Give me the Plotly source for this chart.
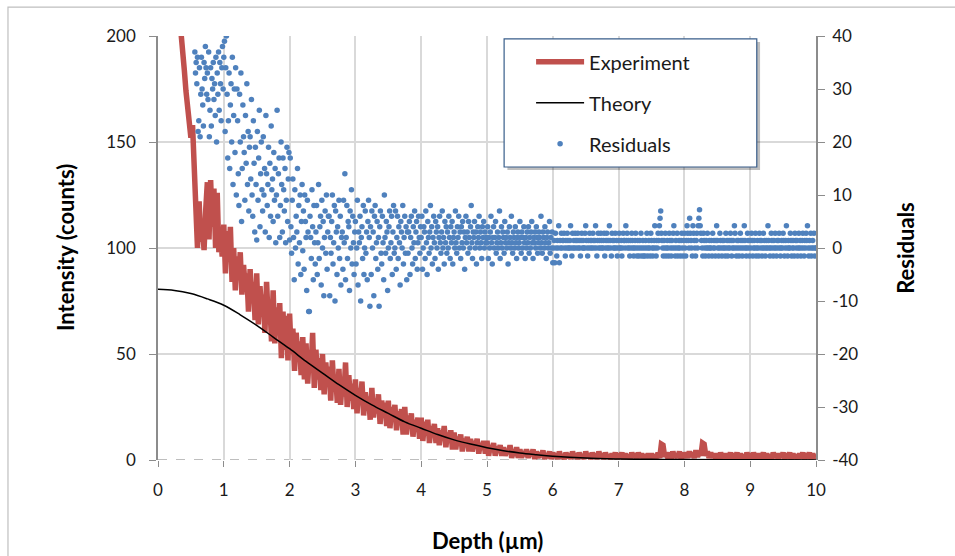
import plotly.graph_objects as go

# ---------------- data ----------------
EXP_STEP = 0.025
experiment = [
    430, 410, 390, 370, 350, 330, 310, 290, 275, 260,
    245, 232, 220, 210, 203, 195, 184, 174, 166, 158,
    152, 158, 138, 112, 100, 122, 103, 110, 99, 118,
    131, 104, 132, 110, 128, 100, 126, 98, 108, 96,
    111, 88, 108, 94, 110, 84, 100, 80, 96, 86,
    98, 78, 92, 82, 88, 70, 90, 74, 84, 66,
    88, 64, 82, 70, 78, 60, 84, 66, 74, 56,
    80, 55, 72, 60, 74, 48, 70, 52, 68, 47,
    69, 50, 62, 42, 60, 48, 56, 40, 58, 38,
    55, 36, 50, 42, 60, 34, 52, 38, 48, 33,
    50, 31, 46, 36, 44, 28, 47, 33, 40, 27,
    43, 26, 38, 30, 46, 25, 40, 28, 36, 24,
    38, 22, 34, 26, 37, 21, 32, 24, 30, 19,
    34, 20, 29, 22, 31, 17, 28, 21, 27, 16,
    28, 15, 25, 19, 26, 14, 23, 17, 24, 12,
    25, 12, 21, 15, 22, 11, 19, 14, 20, 10,
    20, 9, 18, 12, 19, 8, 16, 11, 17, 8,
    15, 7, 14, 10, 16, 6, 13, 9, 14, 5,
    13, 5, 11, 8, 12, 4, 10, 7, 11, 4,
    10, 4, 9, 6, 10, 3, 8, 5, 9, 3,
    9, 2, 7, 4, 8, 2, 6, 4, 7, 2,
    6, 2, 5, 3, 7, 1, 5, 2, 6, 1,
    5, 1, 4, 2, 5, 1, 4, 2, 5, 0.5,
    4, 1, 3.5, 1.5, 4.5, 0.5, 3, 1, 4, 0.5,
    3.5, 1, 3, 0.5, 4, 1, 2.5, 0.5, 3.5, 1,
    3, 0.5, 4, 1, 3, 0.5, 3.5, 1, 2.5, 0.5,
    4, 1, 3, 0.5, 3.5, 1, 3, 0.5, 4, 1,
    3, 0.5, 3.5, 1, 2.5, 0.5, 3, 1, 3.5, 0.5,
    3, 1, 3.5, 0.5, 3, 1, 2.5, 0.5, 3.5, 1,
    3, 0.5, 3.5, 1, 3, 0.5, 2.5, 1, 3, 0.5,
    3, 1, 2.5, 0.5, 3.5, 1, 7.5, 7, 1.5, 3,
    1, 3.5, 0.5, 4, 1, 3, 1, 4, 0.5, 3.5,
    1, 3.5, 1, 4, 1.5, 3.5, 1, 4.5, 1.5, 4,
    2, 8, 7.5, 2, 4, 1, 3.5, 1, 3, 1,
    3, 0.5, 3.5, 1, 3, 0.5, 3, 1, 3.5, 0.5,
    3, 1, 3.5, 0.5, 3, 1, 2.5, 0.5, 3.5, 1,
    3, 0.5, 3.5, 1, 3, 0.5, 3, 1, 3.5, 0.5,
    3, 1, 2.5, 0.5, 3.5, 1, 3, 0.5, 3, 1,
    3.5, 0.5, 3, 1, 3.5, 0.5, 3, 1, 2.5, 0.5,
    3, 1, 3.5, 0.5, 3, 1, 3.5, 0.5, 3, 1,
    2,
]
experiment_depth = [round(i * EXP_STEP, 3) for i in range(len(experiment))]

theory_depth = [0, 0.25, 0.5, 0.75, 1, 1.25, 1.5, 1.75, 2, 2.25, 2.5, 2.75, 3, 3.25, 3.5,
                3.75, 4, 4.25, 4.5, 4.75, 5, 5.25, 5.5, 5.75, 6, 6.5, 7, 7.5, 8, 9, 10]
theory = [80.5, 80, 78.5, 76, 73, 68.5, 63.5, 58, 52.5, 46.5, 41, 35.5, 30.5, 26, 22,
          18, 15, 12, 9.5, 7.5, 5.8, 4.4, 3.3, 2.5, 1.8, 0.9, 0.5, 0.3, 0.2, 0.1, 0]

RES_START = 0.56
RES_STEP = 0.01
res_0 = [37, 33, 35, 31, 36, 22, 24, 34, 21, 29, 36, 30, 27, 23, 35, 32, 38, 34, 29, 33,
         28, 37, 21, 26, 34, 23, 32, 30, 35, 28, 31, 25, 36, 20, 33, 29, 37, 26, 35, 31, 24, 34, 38, 30]
res_1 = [36, 39, 22, 34, 40, 29, 17, 24, 33, 15, 27, 31, 20, 36, 12, 25, 30, 18, 34, 10,
         30, 24, 14, 8, 29, 20, 33, 5, 15, 27, 21, 18, 9, 25, 16, 31, 12, 22, 7, 19,
         21, 13, 28, 10, 6, 24, 16, 3, 19, 12, 1.5, 22, 9, 17, 26, 4, 14, 20, 11, 7,
         21, 10, 15, 3, 25, 14, 8, 12, 19, 2, 16, 6, 23, 11, 13, 5, 18, 9, 15, 1,
         10, 26, 6, 14, 17, 2, 8, 20, 12, 3, 17, 11, 7, 15, 1, 9, 19, 5, 13, 18]
res_2 = [1.5, 17, 4, -1, 9, 13, 2, -6, 11, 0, 6, 3, 15, -3, 8, 1, 10, -5, 5, 12,
         -0.5, 7, -4, 10, 5, 2, -8, 9, 3, -12, -12, 6, 2, -2, 11, 4, -6, 8, 1, -3,
         3, 8, -5, 1, 12, -2, 4, 6, -7, 9, 0, 5, -9, 2, 7, -1, 10, -4, 3, 6,
         6, -9, 2, -1, 5, 10, -3, 1, 8, -10, 7, 3, -5, 4, 0, 9, -2, 6, -7, 2,
         3, -4, 9, 1, 14, -6, 2, 8, -2, 5, 4, -8, 7, 0, 11, -3, 6, 1, -5, 3]
res_3 = [5, -3, 0, 9, -7, 3, 1, 6, -10, 2, 4, -2, 8, -5, 0, 7, -1, 3, -6, 5,
         9, 2, -11, 4, -5, 7, 0, 3, -9, 6, 8, -2, 1, 5, -4, 2, -11, 4, 7, -1,
         -3, 6, 1, -6, 10, 2, -1, 5, 3, -8, 0, 4, 7, -2, 1, 6, -5, 3, 8, -1,
         0, 7, -4, 2, 6, -2, 4, 1, -7, 5, 3, 0, 8, -3, 2, 6, -1, 4, -6, 3,
         -1, 3, 5, -5, 2, 6, 0, -3, 4, 1, 7, -2, 3, 5, -4, 1, 6, 2, -1, 4]
res_4 = [2, 6, -4, 0, 4, 3, -2, 7, 1, -5, 5, 2, -1, 3, 8, 0, 4, -3, 2, 6,
         1, -2, 5, 3, 0, 4, -4, 2, 6, 1, -1, 3, 7, 0, 2, -3, 5, 1, 4, -1,
         3, 0, 6, 2, -2, 4, 1, 5, -3, 2, 3, 0, 7, 1, -1, 4, 2, 6, 0, 3,
         -2, 4, 1, 5, 0, 3, -4, 2, 6, 1, 3, -1, 5, 2, 0, 4, 8, 1, -2, 3,
         2, 5, 0, 3, -3, 1, 4, 2, 6, 0, 3, 1, -2, 4, 2, 5, 0, 3, 1, 2]
res_5 = [1, 4, -2, 2, 0, 3, 6, 1, -3, 2, 4, 0, 2, 5, -1, 1, 3, 0, 2, 7,
         -2, 1, 4, 0, 3, 2, -1, 5, 1, 2, 0, 3, -3, 1, 4, 2, 0, 6, 1, -1,
         3, 2, 0, 4, 1, -2, 2, 3, 0, 1, 5, 2, -1, 3, 0, 2, 4, 1, -2, 2,
         0, 3, 1, 4, -1, 2, 0, 3, 5, 1, -2, 2, 1, 3, 0, 4, 2, -1, 1, 3,
         2, 0, 6, 1, -1, 3, 2, 0, 4, 1, -2, 2, 3, 0, 1, 5, -1, 2, 0, 3]
res_tail = [
    -2.8, 0, 1.4, -2.8, 2.8, 0, -1.5, 1.4, 0, 4.2, -2.8, 1.4, 0, 2.8, 0, 1.4, 1.4, 2.8, 0, -1.5,
    1.4, 0, 2.8, 1.4, 0, 0, 1.4, 4.2, 0, -1.5, 2.8, 0, 1.4, 0, 2.8, 1.4, 0, 1.4, 2.8, 0,
    1.4, 0, -1.5, 1.4, 2.8, 0, 1.4, 0, 0, 2.8, 4.2, 1.4, 0, -1.5, 1.4, 0, 2.8, 1.4, 0, 1.4,
    0, 2.8, 1.4, 0, 1.4, 4.2, 0, -1.5, 1.4, 2.8, 0, 1.4, 0, 2.8, 1.4, 0, 0, 1.4, 2.8, -1.5,
    0, 1.4, 2.8, 0, 1.4, 0, 4.2, 1.4, 0, -1.5, 2.8, 1.4, 0, 1.4, 0, 2.8, 0, 1.4, -1.5, 0,
    1.4, 2.8, 0, 0, 1.4, -1.5, 0, 2.8, 1.4, 1.4, 0, 4.2, 1.4, 2.8, 0, 1.4, 0, -1.5, 1.4, 0,
    2.8, 1.4, 0, -1.5, 0, 1.4, 2.8, 0, -1.5, 1.4, 0, -1.5, 1.4, 0, 2.8, -1.5, 0, 1.4, -1.5, 0,
    -1.5, 1.4, 0, 2.8, -1.5, 0, 1.4, 0, -1.5, 2.8, 1.4, 0, -1.5, 0, 1.4, 4.2, 0, -1.5, 1.4, 0,
    2.8, 1.4, 4.2, 5.6, 7, 2.8, 1.4, 0, -1.5, 1.4, 0, 2.8, -1.5, 0, 1.4, 0, -1.5, 2.8, 1.4, 0,
    -1.5, 1.4, 0, 2.8, 4.2, 0, -1.5, 1.4, 0, 2.8, -1.5, 0, 1.4, 0, -1.5, 1.4, 2.8, 0, -1.5, 1.4,
    2.8, 0, -1.5, 1.4, 4.2, 2.8, 1.4, 0, 5.6, 2.8, 1.4, 0, -1.5, 4.2, 2.8, 1.4, 0, -1.5, 1.4, 2.8,
    0, 4.2, 5.6, 7.2, 4.2, 2.8, 1.4, 0, -1.5, 2.8, 1.4, 0, -1.5, 1.4, 0, 2.8, 0, -1.5, 1.4, 0,
    0, 1.4, -1.5, 2.8, 0, 1.4, 0, -1.5, 1.4, 4.2, 1.4, 0, -1.5, 0, 2.8, 1.4, 0, -1.5, 1.4, 0,
    1.4, 0, -1.5, 2.8, 0, 1.4, -1.5, 0, 1.4, 0, 2.8, 1.4, -1.5, 0, 1.4, 0, 4.2, 2.8, 0, -1.5,
    1.4, 0, 1.4, -1.5, 0, 2.8, 1.4, 0, -1.5, 1.4, 0, 4.2, 1.4, 0, -1.5, 0, 2.8, 1.4, 0, -1.5,
    1.4, 0, 2.8, 1.4, -1.5, 0, 1.4, 0, 2.8, -1.5, 0, 1.4, 0, -1.5, 2.8, 1.4, 0, 1.4, -1.5, 0,
    2.8, 0, 1.4, -1.5, 0, 1.4, 0, 4.2, 1.4, 0, -1.5, 0, 2.8, 1.4, 0, -1.5, 1.4, 0, 2.8, 0,
    -1.5, 1.4, 0, 1.4, 2.8, 0, -1.5, 0, 1.4, 0, 2.8, 1.4, -1.5, 0, 1.4, 4.2, 0, -1.5, 1.4, 0,
    0, 2.8, 1.4, -1.5, 0, 1.4, 0, -1.5, 2.8, 1.4, 0, 1.4, -1.5, 0, 2.8, 0, 1.4, -1.5, 0, 1.4,
    2.8, 0, -1.5, 1.4, 0, 2.8, 1.4, 4.2, 0, -1.5, 1.4, 0, 2.8, -1.5, 0, 1.4, 0, 2.8, -1.5, 0,
    0,
]
residuals = res_0 + res_1 + res_2 + res_3 + res_4 + res_5 + res_tail
residual_depth = [round(RES_START + i * RES_STEP, 2) for i in range(len(residuals))]

x_ticks = list(range(0, 11))
y_ticks = [0, 50, 100, 150, 200]
y2_ticks = [-40, -30, -20, -10, 0, 10, 20, 30, 40]
y2_labels = [str(v) for v in y2_ticks]

# ---------------- figure ----------------
FONT = "Lato, 'Open Sans', sans-serif"
RED = "#C0504D"
BLUE = "#4F81BD"
GRID = "#D9D9D9"
AXIS = "#8C8C8C"

fig = go.Figure()
fig.add_trace(go.Scatter(x=experiment_depth, y=experiment, mode="lines", name="Experiment",
                         line=dict(color=RED, width=5.5), legendgroup="a"))
fig.add_trace(go.Scatter(x=theory_depth, y=theory, mode="lines", name="Theory",
                         line=dict(color="black", width=1.5, shape="spline"), legendgroup="b"))
fig.add_trace(go.Scatter(x=residual_depth, y=residuals, mode="markers", name="Residuals",
                         marker=dict(color=BLUE, size=5.5), yaxis="y2", legendgroup="c"))

fig.update_layout(
    width=955, height=556,
    margin=dict(l=158, r=139, t=36, b=96),
    paper_bgcolor="white", plot_bgcolor="white",
    font=dict(family=FONT, size=17, color="#1a1a1a"),
    showlegend=True,
    legend=dict(x=0.567, y=0.985, xanchor="left", yanchor="top",
                bgcolor="rgba(0,0,0,0)", borderwidth=0,
                font=dict(family=FONT, size=20, color="#1a1a1a"),
                itemwidth=48, tracegroupgap=12),
    xaxis=dict(range=[0, 10], tickvals=x_ticks, showgrid=True, gridcolor=GRID, gridwidth=1.5,
               zeroline=False, showline=False, ticks="outside", ticklen=6, tickcolor=AXIS,
               ticklabelstandoff=9, tickfont=dict(size=17)),
    yaxis=dict(range=[0, 200], tickvals=y_ticks, showgrid=True, gridcolor=GRID, gridwidth=1.5,
               zeroline=False, showline=True, linecolor=AXIS, linewidth=1.5,
               ticks="outside", ticklen=7, tickcolor=AXIS, ticklabelstandoff=10,
               tickfont=dict(size=17)),
    yaxis2=dict(range=[-40, 40], tickvals=y2_ticks, ticktext=y2_labels, overlaying="y", side="right",
                showgrid=False, zeroline=False, showline=True, linecolor=AXIS, linewidth=1.5,
                ticks="outside", ticklen=7, tickcolor=AXIS, ticklabelstandoff=4,
                tickfont=dict(size=17)),
)

# dashed reference lines at intensity 0 and 100
for yv in (0, 100):
    fig.add_shape(type="line", xref="paper", x0=0, x1=1, yref="y", y0=yv, y1=yv,
                  line=dict(color="#7F7F7F", width=1.2, dash="dash"), layer="between")

# outer chart border
fig.add_shape(type="rect", xref="paper", yref="paper", x0=-0.228, x1=1.23, y0=-0.25, y1=1.068,
              line=dict(color="#BFBFBF", width=1.2), fillcolor="rgba(0,0,0,0)", layer="above")

# legend box with shadow
fig.add_shape(type="rect", xref="paper", yref="paper", x0=0.531, x1=0.915, y0=0.684, y1=0.986,
              line=dict(width=0), fillcolor="rgba(0,0,0,0.25)", layer="above")
fig.add_shape(type="rect", xref="paper", yref="paper", x0=0.526, x1=0.910, y0=0.691, y1=0.993,
              line=dict(color="#385D8A", width=1.2), fillcolor="white", layer="above")

# axis titles
fig.add_annotation(text="<b>Intensity (counts)</b>", xref="paper", yref="paper", x=-0.1413, y=0.5,
                   xanchor="center", yanchor="middle", textangle=-90, showarrow=False,
                   font=dict(family=FONT, size=22, color="black"))
fig.add_annotation(text="<b>Residuals</b>", xref="paper", yref="paper", x=1.135, y=0.5,
                   xanchor="center", yanchor="middle", textangle=-90, showarrow=False,
                   font=dict(family=FONT, size=22, color="black"))
fig.add_annotation(text="<b>Depth (µm)</b>", xref="paper", yref="paper", x=0.5, y=-0.1887,
                   xanchor="center", yanchor="middle", showarrow=False,
                   font=dict(family=FONT, size=22, color="black"))

fig.write_html("out.html")
